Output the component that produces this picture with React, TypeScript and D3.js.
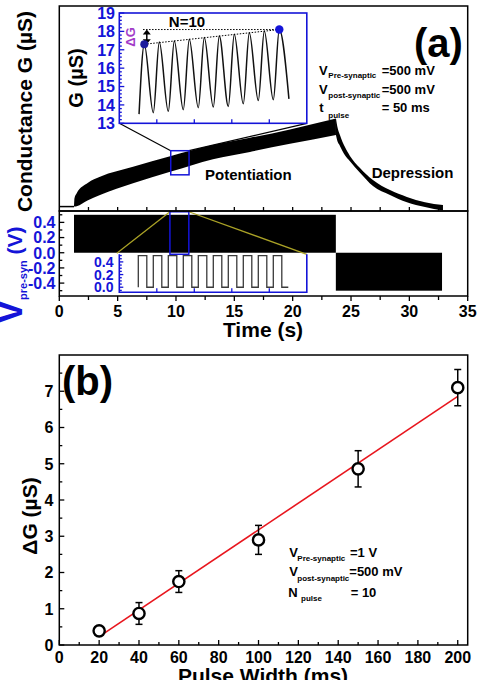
import * as React from "react";
import * as d3 from "d3";
import { useEffect, useRef } from "react";

// potentiation: envelope of the conductance trace (time s, G µS)
const potT = [1.26, 1.3, 1.49, 2.46, 3.49, 6.32, 9.57, 13.17, 16.34, 19.77, 23.71];
const potUpper = [5.1, 7.2, 8.4, 11.0, 12.5, 15.0, 17.7, 20.4, 22.2, 24.3, 27.0];
const potLower = [5.1, 5.1, 5.2, 6.7, 8.0, 10.9, 13.8, 16.9, 18.7, 20.7, 22.9];
// depression
const depT = [23.71, 23.8, 24.05, 24.48, 24.91, 25.77, 26.88, 28.34, 29.79, 31.34, 32.88];
const depUpper = [27.0, 25.4, 22.9, 19.9, 17.7, 14.7, 11.7, 9.2, 7.5, 6.2, 5.5];
const depLower = [22.9, 21.7, 20.2, 17.9, 16.4, 13.5, 10.2, 8.0, 6.2, 5.0, 4.1];
const restT = [0, 1.26];
const restG = 5.1;

// pre-synaptic stimulus blocks (s, V)
const blockStart = [1.26, 23.7];
const blockEnd = [23.7, 32.8];
const blockAmp = [0.5, -0.5];

// zoom window
const zoomT = [9.55, 11.12];
const zoomG = [13, 19];
const zoomV = [-0.02, 0.54];

// inset: 10 pulses, conductance peaks and troughs (s from window start, µS)
const insetStart = { t: 0.158, g: 13.5 };
const insetEnd = { t: 1.357, g: 14.33 };
const peakT = [0.2, 0.32, 0.44, 0.56, 0.68, 0.8, 0.92, 1.04, 1.16, 1.28];
const peakG = [17.3, 17.42, 17.48, 17.57, 17.67, 17.75, 17.85, 17.93, 18.02, 18.1];
const troughT = [0.272, 0.392, 0.512, 0.632, 0.752, 0.872, 0.992, 1.112, 1.232];
const troughG = [13.58, 13.65, 13.74, 13.85, 13.88, 13.92, 14.06, 14.24, 14.28];

// inset: pulse train
const pulseOn = [0.152, 0.272, 0.392, 0.512, 0.632, 0.752, 0.872, 0.992, 1.112, 1.232];
const pulseOff = [0.22, 0.34, 0.46, 0.58, 0.7, 0.82, 0.94, 1.06, 1.18, 1.3];
const pulseAmp = 0.5;
const pulseEnd = 1.352;

// panel (b)
const pulseWidth = [20, 40, 60, 100, 150, 200];
const deltaG = [0.39, 0.87, 1.75, 2.9, 4.86, 7.1];
const deltaGErr = [0.05, 0.3, 0.3, 0.4, 0.5, 0.5];
const fitX = [20, 200];
const fitY = [0.23, 6.86];

// tick labels
const timeTicks = [0, 5, 10, 15, 20, 25, 30, 35];
const vTicks = [0.4, 0.2, 0.0, -0.2, -0.4];
const insetGTicks = [13, 14, 15, 16, 17, 18, 19];
const insetVTicks = [0.0, 0.2, 0.4];
const insetTTicks = [0.3, 0.6, 0.9, 1.2];
const widthTicks = [0, 20, 40, 60, 80, 100, 120, 140, 160, 180, 200];
const dgTicks = [0, 1, 2, 3, 4, 5, 6, 7];

const FONT = "'Liberation Sans', Arial, Helvetica, sans-serif";
const BLUE = "#1414d8";
const OLIVE = "#aaa226";
const PURPLE = "#a23cc8";
const RED = "#e8161e";

type G = d3.Selection<SVGGElement, unknown, null, undefined>;

function ticksX(g: G, sc: (v: number) => number, vals: number[], y: number, len: number, color = "#000") {
  g.append("g")
    .selectAll("line")
    .data(vals)
    .join("line")
    .attr("x1", (d) => sc(d))
    .attr("x2", (d) => sc(d))
    .attr("y1", y)
    .attr("y2", y + len)
    .attr("stroke", color)
    .attr("stroke-width", 1.3);
}

function ticksY(g: G, sc: (v: number) => number, vals: number[], x: number, len: number, color = "#000") {
  g.append("g")
    .selectAll("line")
    .data(vals)
    .join("line")
    .attr("y1", (d) => sc(d))
    .attr("y2", (d) => sc(d))
    .attr("x1", x)
    .attr("x2", x + len)
    .attr("stroke", color)
    .attr("stroke-width", 1.3);
}

function labelsX(g: G, sc: (v: number) => number, vals: number[], y: number, size: number, color = "#000") {
  g.append("g")
    .selectAll("text")
    .data(vals)
    .join("text")
    .attr("x", (d) => sc(d))
    .attr("y", y)
    .attr("text-anchor", "middle")
    .attr("font-size", size)
    .attr("fill", color)
    .text((d) => String(d));
}

function labelsY(g: G, sc: (v: number) => number, vals: number[], x: number, size: number, fmt: (v: number) => string, color = "#000") {
  g.append("g")
    .selectAll("text")
    .data(vals)
    .join("text")
    .attr("x", x)
    .attr("y", (d) => sc(d))
    .attr("dy", "0.36em")
    .attr("text-anchor", "end")
    .attr("font-size", size)
    .attr("fill", color)
    .text((d) => fmt(d));
}

// "V_sub = value" style annotation
function param(g: G, x: number, y: number, main: string, sub: string, subX: number, subY: number, valX: number, value: string) {
  g.append("text").attr("x", x).attr("y", y).attr("font-size", 13).text(main);
  g.append("text").attr("x", subX).attr("y", subY).attr("font-size", 8).text(sub);
  g.append("text").attr("x", valX).attr("y", y).attr("font-size", 13).text(value);
}

const App: React.FunctionComponent = () => {
  const svgRef = useRef<SVGSVGElement>(null);

  useEffect(() => {
    const svg = d3.select(svgRef.current);
    svg.selectAll("*").remove();
    const root = svg.append("g").attr("font-family", FONT).attr("font-weight", "bold") as unknown as G;

    const xT = d3.scaleLinear().domain([0, 35]).range([59.3, 467.7]);
    const yG = d3.scaleLinear().domain([4, 55]).range([211, 6]);
    const yV = d3.scaleLinear().domain([-0.57, 0.55]).range([296, 211]);
    const xI = d3.scaleLinear().domain([0, 1.5]).range([119.3, 306.8]);
    const yIG = d3.scaleLinear().domain([13, 19]).range([123.3, 13]);
    const yIV = d3.scaleLinear().domain([-0.08, 0.52]).range([292.3, 254.3]);

    // ---------- panel (a), conductance ----------
    const a = root.append("g");

    a.append("line")
      .attr("x1", xT(restT[0]))
      .attr("x2", xT(restT[1]))
      .attr("y1", yG(restG))
      .attr("y2", yG(restG))
      .attr("stroke", "#000")
      .attr("stroke-width", 1.5);

    const bandPath = (ts: number[], up: number[], lo: number[]) =>
      d3
        .area<number>()
        .x((d) => xT(d))
        .y0((_, i) => yG(lo[i]))
        .y1((_, i) => yG(up[i]))
        .curve(d3.curveMonotoneX)(ts);

    a.append("path").attr("d", bandPath(potT, potUpper, potLower)).attr("fill", "#000");
    a.append("path").attr("d", bandPath(depT, depUpper, depLower)).attr("fill", "#000");

    a.append("text").attr("x", 205).attr("y", 180).attr("font-size", 15).text("Potentiation");
    a.append("text").attr("x", 371.7).attr("y", 178).attr("font-size", 15).text("Depression");

    // zoom window and connectors to inset
    const bx0 = xT(zoomT[0]);
    const bx1 = xT(zoomT[1]);
    const by0 = yG(zoomG[1]);
    const by1 = yG(zoomG[0]);
    a.append("line").attr("x1", xI(0)).attr("y1", yIG(13)).attr("x2", bx0).attr("y2", by0).attr("stroke", "#000").attr("stroke-width", 1.2);
    a.append("line").attr("x1", xI(1.5)).attr("y1", yIG(13)).attr("x2", bx1).attr("y2", by0).attr("stroke", "#000").attr("stroke-width", 1.2);
    a.append("rect")
      .attr("x", bx0)
      .attr("y", by0)
      .attr("width", bx1 - bx0)
      .attr("height", by1 - by0)
      .attr("fill", "none")
      .attr("stroke", BLUE)
      .attr("stroke-width", 1.5);

    // inset with the 10-pulse trace
    const ins = a.append("g") as G;
    ins.append("rect")
      .attr("x", xI(0))
      .attr("y", yIG(19))
      .attr("width", xI(1.5) - xI(0))
      .attr("height", yIG(13) - yIG(19))
      .attr("fill", "#fff")
      .attr("stroke", BLUE)
      .attr("stroke-width", 1.6);

    const trace: [number, number][] = [[insetStart.t, insetStart.g]];
    peakT.forEach((t, i) => {
      trace.push([t, peakG[i]]);
      if (i < troughT.length) trace.push([troughT[i], troughG[i]]);
    });
    trace.push([insetEnd.t, insetEnd.g]);
    ins.append("path")
      .attr(
        "d",
        d3
          .line<[number, number]>()
          .x((d) => xI(d[0]))
          .y((d) => yIG(d[1]))
          .curve(d3.curveMonotoneX)(trace)
      )
      .attr("fill", "none")
      .attr("stroke", "#111")
      .attr("stroke-width", 1.5);

    ticksY(ins, yIG, insetGTicks, xI(0), 5, BLUE);
    ticksY(ins, yIG, d3.range(13.2, 19, 0.2).filter((v) => Math.abs(v - Math.round(v)) > 0.05), xI(0), 2.5, BLUE);
    ticksX(ins, xI, insetTTicks, yIG(13), -4, BLUE);
    labelsY(ins, yIG, insetGTicks, 115, 16, (v) => String(v), BLUE);

    // ΔG marks
    const last = peakT.length - 1;
    ins.append("line")
      .attr("x1", xI(peakT[0] - 0.01))
      .attr("x2", xI(peakT[last]))
      .attr("y1", yIG(peakG[last]))
      .attr("y2", yIG(peakG[last]))
      .attr("stroke", "#000")
      .attr("stroke-width", 1)
      .attr("stroke-dasharray", "1.5,1.5");
    ins.append("line")
      .attr("x1", xI(peakT[0]))
      .attr("x2", xI(peakT[last]))
      .attr("y1", yIG(peakG[0]))
      .attr("y2", yIG(peakG[last]))
      .attr("stroke", "#000")
      .attr("stroke-width", 1)
      .attr("stroke-dasharray", "1.5,1.5");
    const ax = xI(peakT[0]) + 2.5;
    const ayTop = yIG(peakG[last]);
    const ayBot = yIG(peakG[0]);
    ins.append("line").attr("x1", ax).attr("x2", ax).attr("y1", ayTop + 3).attr("y2", ayBot - 3).attr("stroke", "#000").attr("stroke-width", 1.5);
    ins.append("path").attr("d", `M${ax - 4},${ayTop + 5}L${ax + 4},${ayTop + 5}L${ax},${ayTop}Z`).attr("fill", "#000");
    ins.append("path").attr("d", `M${ax - 4},${ayBot - 5}L${ax + 4},${ayBot - 5}L${ax},${ayBot}Z`).attr("fill", "#000");
    ins.append("circle").attr("cx", xI(peakT[0])).attr("cy", yIG(peakG[0])).attr("r", 4).attr("fill", "#1c1c9c");
    ins.append("circle").attr("cx", xI(peakT[last])).attr("cy", yIG(peakG[last])).attr("r", 4.2).attr("fill", BLUE);
    ins.append("text")
      .attr("transform", `translate(135,${(ayTop + ayBot) / 2}) rotate(-90)`)
      .attr("text-anchor", "middle")
      .attr("font-size", 13)
      .attr("fill", PURPLE)
      .text("ΔG");
    ins.append("text").attr("x", 187).attr("y", 27).attr("text-anchor", "middle").attr("font-size", 15).text("N=10");
    ins.append("text")
      .attr("transform", `translate(83,78) rotate(-90)`)
      .attr("text-anchor", "middle")
      .attr("font-size", 20)
      .text("G (µS)");

    param(a, 319, 75, "V", "Pre-synaptic", 328.3, 78, 381.7, "=500 mV");
    param(a, 319, 94.3, "V", "post-synaptic", 328.3, 98, 381.7, "=500 mV");
    param(a, 319.3, 111.7, "t", "pulse", 328.3, 117.5, 381.7, "= 50 ms");

    a.append("text").attr("x", 414).attr("y", 56.5).attr("font-size", 40).text("(a)");

    a.append("text")
      .attr("transform", `translate(32,111.5) rotate(-90)`)
      .attr("text-anchor", "middle")
      .attr("font-size", 21)
      .text("Conductance G (µS)");

    ticksX(a, xT, d3.range(2.5, 35, 2.5), 211, -4);

    // ---------- panel (a), pre-synaptic voltage ----------
    const v = root.append("g") as G;
    v.append("g")
      .selectAll("rect")
      .data(blockStart)
      .join("rect")
      .attr("x", (d) => xT(d))
      .attr("width", (d, i) => xT(blockEnd[i]) - xT(d))
      .attr("y", (_, i) => yV(Math.max(0, blockAmp[i])))
      .attr("height", (_, i) => Math.abs(yV(blockAmp[i]) - yV(0)))
      .attr("fill", "#000");

    const vx0 = xT(zoomT[0] - 0.07);
    const vx1 = xT(zoomT[1] - 0.02);
    const vy0 = yV(zoomV[1]);
    const vy1 = yV(zoomV[0]);
    v.append("line").attr("x1", xI(0) - 2.5).attr("y1", yIV(0.52) - 1).attr("x2", vx0).attr("y2", vy0).attr("stroke", OLIVE).attr("stroke-width", 1.3);
    v.append("line").attr("x1", xI(1.5)).attr("y1", yIV(0.52)).attr("x2", vx1).attr("y2", vy0).attr("stroke", OLIVE).attr("stroke-width", 1.3);
    v.append("rect")
      .attr("x", vx0)
      .attr("y", vy0)
      .attr("width", vx1 - vx0)
      .attr("height", vy1 - vy0)
      .attr("fill", "none")
      .attr("stroke", BLUE)
      .attr("stroke-width", 1.5);

    // inset pulse train
    const iv = v.append("g") as G;
    const wave: [number, number][] = [];
    pulseOn.forEach((t, i) => {
      wave.push([t, 0], [t, pulseAmp], [pulseOff[i], pulseAmp], [pulseOff[i], 0]);
    });
    wave.push([pulseEnd, 0]);
    iv.append("path")
      .attr(
        "d",
        d3
          .line<[number, number]>()
          .x((d) => xI(d[0]))
          .y((d) => yIV(d[1]))(wave)
      )
      .attr("fill", "none")
      .attr("stroke", "#3a3a3a")
      .attr("stroke-width", 1.3);
    iv.append("path")
      .attr("d", `M${xI(0)},${yIV(0.52)}V${yIV(-0.08)}H${xI(1.5)}V${yIV(0.52)}`)
      .attr("fill", "none")
      .attr("stroke", BLUE)
      .attr("stroke-width", 1.6);
    ticksY(iv, yIV, insetVTicks, xI(0), 4, BLUE);
    ticksY(iv, yIV, [-0.05, 0.05, 0.1, 0.15, 0.25, 0.3, 0.35, 0.45, 0.5], xI(0), 2.5, BLUE);
    ticksX(iv, xI, insetTTicks, yIV(-0.08), -4, BLUE);
    labelsY(iv, yIV, insetVTicks, 113.5, 14, (d) => d.toFixed(1), BLUE);

    ticksY(v, yV, vTicks, 59.3, 5);
    ticksY(v, yV, [-0.5, -0.3, -0.1, 0.1, 0.3, 0.5], 59.3, 3);
    labelsY(v, yV, vTicks, 55.5, 16, (d) => d.toFixed(1), BLUE);
    ticksX(v, xT, timeTicks, 296, 5);
    ticksX(v, xT, d3.range(2.5, 35, 5), 296, 4);
    labelsX(v, xT, timeTicks, 317, 16);
    v.append("text").attr("x", 263).attr("y", 337).attr("text-anchor", "middle").attr("font-size", 21).text("Time (s)");

    const vl = v.append("text").attr("transform", `translate(22,324) rotate(-90)`).attr("fill", BLUE);
    vl.append("tspan").attr("font-size", 36).text("V");
    vl.append("tspan").attr("font-size", 11).attr("dy", 5).text("pre-syn");
    vl.append("tspan").attr("font-size", 21).attr("dy", -5).text(" (V)");

    // frames
    root.append("rect").attr("x", 59.3).attr("y", 6).attr("width", 408.4).attr("height", 205).attr("fill", "none").attr("stroke", "#000").attr("stroke-width", 1.5);
    root.append("rect").attr("x", 59.3).attr("y", 211).attr("width", 408.4).attr("height", 85).attr("fill", "none").attr("stroke", "#000").attr("stroke-width", 1.5);

    // ---------- panel (b) ----------
    const b = root.append("g") as G;
    const xW = d3.scaleLinear().domain([0, 205]).range([59.3, 467.7]);
    const yD = d3.scaleLinear().domain([0, 8]).range([645, 355]);

    b.append("rect").attr("x", 59.3).attr("y", 355).attr("width", 408.4).attr("height", 290).attr("fill", "none").attr("stroke", "#000").attr("stroke-width", 1.5);
    ticksX(b, xW, widthTicks, 645, -5);
    ticksX(b, xW, d3.range(10, 205, 20), 645, -3);
    ticksY(b, yD, dgTicks, 59.3, 5);
    ticksY(b, yD, d3.range(0.5, 8, 1), 59.3, 3);
    labelsX(b, xW, widthTicks, 663, 16);
    labelsY(b, yD, dgTicks, 53.5, 16, (d) => String(d));

    b.append("path")
      .attr(
        "d",
        d3
          .line<number>()
          .x((d) => xW(d))
          .y((_, i) => yD(fitY[i]))(fitX)
      )
      .attr("stroke", RED)
      .attr("stroke-width", 1.6)
      .attr("fill", "none");

    const pts = b.append("g").selectAll("g").data(pulseWidth).join("g");
    pts.append("line")
      .attr("x1", (d) => xW(d))
      .attr("x2", (d) => xW(d))
      .attr("y1", (_, i) => yD(deltaG[i] + deltaGErr[i]))
      .attr("y2", (_, i) => yD(deltaG[i] - deltaGErr[i]))
      .attr("stroke", "#000")
      .attr("stroke-width", 1.5);
    [1, -1].forEach((s) => {
      pts.append("line")
        .attr("x1", (d) => xW(d) - 3.5)
        .attr("x2", (d) => xW(d) + 3.5)
        .attr("y1", (_, i) => yD(deltaG[i] + s * deltaGErr[i]))
        .attr("y2", (_, i) => yD(deltaG[i] + s * deltaGErr[i]))
        .attr("stroke", "#000")
        .attr("stroke-width", 1.5);
    });
    pts.append("circle")
      .attr("cx", (d) => xW(d))
      .attr("cy", (_, i) => yD(deltaG[i]))
      .attr("r", 5.6)
      .attr("fill", "#fff")
      .attr("stroke", "#000")
      .attr("stroke-width", 2.4);

    b.append("text").attr("x", 62).attr("y", 395).attr("font-size", 40).text("(b)");
    param(b, 289.3, 556.7, "V", "Pre-synaptic", 297.3, 561, 350, "=1 V");
    param(b, 289.3, 576, "V", "post-synaptic", 297.3, 580.5, 349.3, "=500 mV");
    param(b, 288.3, 596.7, "N", "pulse", 301, 601, 350.7, "= 10");

    b.append("text")
      .attr("transform", `translate(37,516) rotate(-90)`)
      .attr("text-anchor", "middle")
      .attr("font-size", 21)
      .text("ΔG (µS)");
    b.append("text").attr("x", 263).attr("y", 683).attr("text-anchor", "middle").attr("font-size", 21).text("Pulse Width (ms)");
  }, []);

  return (
    <svg
      ref={svgRef}
      width={480}
      height={680}
      style={{ position: "absolute", left: 0, top: 0, background: "#fff" }}
    ></svg>
  );
};

export default App;
